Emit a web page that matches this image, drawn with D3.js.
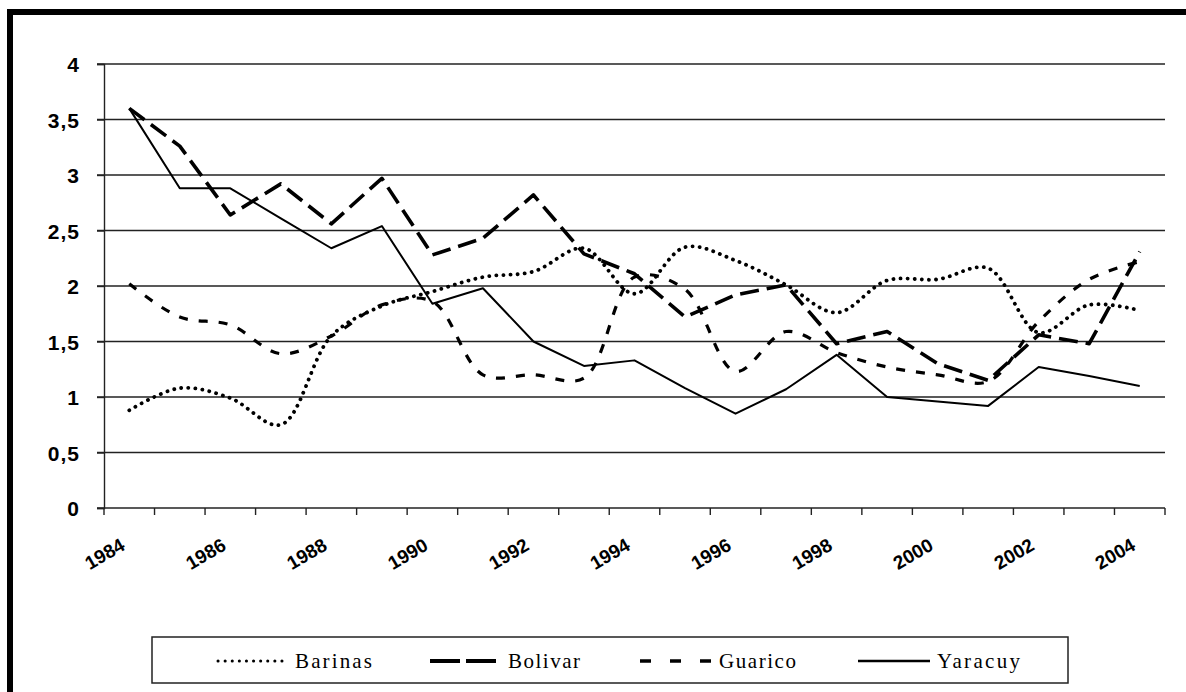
<!DOCTYPE html>
<html>
<head>
<meta charset="utf-8">
<script src="https://cdn.jsdelivr.net/npm/d3@7"></script>
<style>
  html, body { margin: 0; padding: 0; background: #fff; }
  svg { display: block; }
</style>
</head>
<body>
<svg id="chart" width="1186" height="692"></svg>
<script>
const years = d3.range(1984, 2005);
const yTicks = [0, 0.5, 1, 1.5, 2, 2.5, 3, 3.5, 4];
const xLabelYears = [1984, 1986, 1988, 1990, 1992, 1994, 1996, 1998, 2000, 2002, 2004];

const barinas = [0.88, 1.08, 0.99, 0.75, 1.55, 1.82, 1.95, 2.08, 2.13, 2.34, 1.93, 2.35, 2.23, 2.01, 1.76, 2.05, 2.06, 2.16, 1.58, 1.83, 1.78];
const bolivar = [3.6, 3.26, 2.64, 2.92, 2.56, 2.97, 2.28, 2.43, 2.82, 2.29, 2.11, 1.72, 1.92, 2.01, 1.48, 1.59, 1.30, 1.15, 1.56, 1.48, 2.31];
const guarico = [2.02, 1.72, 1.65, 1.39, 1.55, 1.83, 1.86, 1.20, 1.20, 1.17, 2.08, 1.97, 1.23, 1.59, 1.40, 1.27, 1.20, 1.14, 1.68, 2.06, 2.22];
const yaracuy = [3.6, 2.88, 2.88, 2.61, 2.34, 2.54, 1.84, 1.98, 1.50, 1.28, 1.33, 1.08, 0.85, 1.07, 1.38, 1.00, 0.96, 0.92, 1.27, 1.19, 1.10];

const seriesNames = ["Barinas", "Bolivar", "Guarico", "Yaracuy"];
const seriesValues = [barinas, bolivar, guarico, yaracuy];
const seriesStyle = {
  Barinas: { width: 3.8, dash: "0.1,7", cap: "round", smooth: true, legendDash: "0.1,7", legendWidth: 3 },
  Bolivar: { width: 3.6, dash: "19,8", cap: "butt", smooth: false, legendDash: "30,6", legendWidth: 4 },
  Guarico: { width: 3.2, dash: "9,11", cap: "butt", smooth: true, legendDash: "11,19", legendWidth: 3.6 },
  Yaracuy: { width: 2, dash: null, cap: "butt", smooth: false, legendDash: null, legendWidth: 2.6 }
};

const svg = d3.select("#chart");

// outer frame
svg.append("rect")
  .attr("x", 10).attr("y", 12).attr("width", 1300).attr("height", 800)
  .attr("fill", "#fff").attr("stroke", "#000").attr("stroke-width", 6);

const x = d3.scaleBand().domain(years).range([104, 1165]);
const y = d3.scaleLinear().domain([0, 4]).range([508, 64]);
const cx = d => x(d) + x.bandwidth() / 2;

// grid lines
svg.append("g").selectAll("line").data(yTicks.filter(v => v > 0)).join("line")
  .attr("x1", 97).attr("x2", 1165)
  .attr("y1", d => y(d)).attr("y2", d => y(d))
  .attr("stroke", "#222").attr("stroke-width", 1.4);

// y axis
const yAxis = d3.axisLeft(y).tickValues(yTicks).tickSize(7)
  .tickFormat(d => String(d).replace(".", ","));
const gy = svg.append("g").attr("transform", "translate(104,0)").call(yAxis);
gy.select(".domain").attr("stroke", "#222").attr("stroke-width", 1.4);
gy.selectAll(".tick line").attr("stroke", "#222").attr("stroke-width", 1.4);
gy.selectAll(".tick text")
  .attr("x", -24)
  .attr("dy", "0.36em")
  .attr("font-family", "Liberation Sans, Arial, sans-serif")
  .attr("font-weight", "bold").attr("font-size", 21).attr("letter-spacing", 1).attr("fill", "#000");

// x axis line
svg.append("line").attr("x1", 97).attr("x2", 1165).attr("y1", y(0)).attr("y2", y(0))
  .attr("stroke", "#222").attr("stroke-width", 1.4);
const boundaries = years.map(d => x(d)).concat([x.range()[1]]);
svg.append("g").selectAll("line").data(boundaries).join("line")
  .attr("x1", d => d).attr("x2", d => d).attr("y1", y(0)).attr("y2", y(0) + 7)
  .attr("stroke", "#222").attr("stroke-width", 1.4);

// x labels
svg.append("g").selectAll("text").data(xLabelYears).join("text")
  .attr("transform", d => `translate(${cx(d) - 3},${549}) rotate(-30)`)
  .attr("text-anchor", "end")
  .attr("font-family", "Liberation Sans, Arial, sans-serif")
  .attr("font-weight", "bold").attr("font-size", 19).attr("fill", "#000")
  .text(d => d);

// lines
seriesNames.forEach((name, i) => {
  const st = seriesStyle[name];
  const line = d3.line()
    .x((d, j) => cx(years[j]))
    .y(d => y(d))
    .curve(st.smooth ? d3.curveCatmullRom.alpha(0.5) : d3.curveLinear);
  svg.append("path")
    .datum(seriesValues[i])
    .attr("d", line)
    .attr("fill", "none")
    .attr("stroke", "#000")
    .attr("stroke-width", st.width)
    .attr("stroke-dasharray", st.dash)
    .attr("stroke-linecap", st.cap)
    .attr("stroke-linejoin", "round");
});

// legend
svg.append("rect").attr("x", 152).attr("y", 637).attr("width", 916).attr("height", 46)
  .attr("fill", "#fff").attr("stroke", "#222").attr("stroke-width", 1.5);
const legendPos = [
  { x1: 218, x2: 286, tx: 295, tw: 77 },
  { x1: 430, x2: 502, tx: 508, tw: 72 },
  { x1: 640, x2: 712, tx: 719, tw: 77 },
  { x1: 858, x2: 930, tx: 937, tw: 83 }
];
seriesNames.forEach((name, i) => {
  const st = seriesStyle[name];
  const p = legendPos[i];
  svg.append("line")
    .attr("x1", p.x1).attr("x2", p.x2).attr("y1", 661).attr("y2", 661)
    .attr("stroke", "#000").attr("stroke-width", st.legendWidth)
    .attr("stroke-dasharray", st.legendDash)
    .attr("stroke-linecap", st.cap);
  svg.append("text")
    .attr("x", p.tx).attr("y", 668)
    .attr("font-family", "Liberation Serif, Times New Roman, serif")
    .attr("font-size", 21).attr("fill", "#000")
    .attr("textLength", p.tw).attr("lengthAdjust", "spacing")
    .text(name);
});
</script>
</body>
</html>
